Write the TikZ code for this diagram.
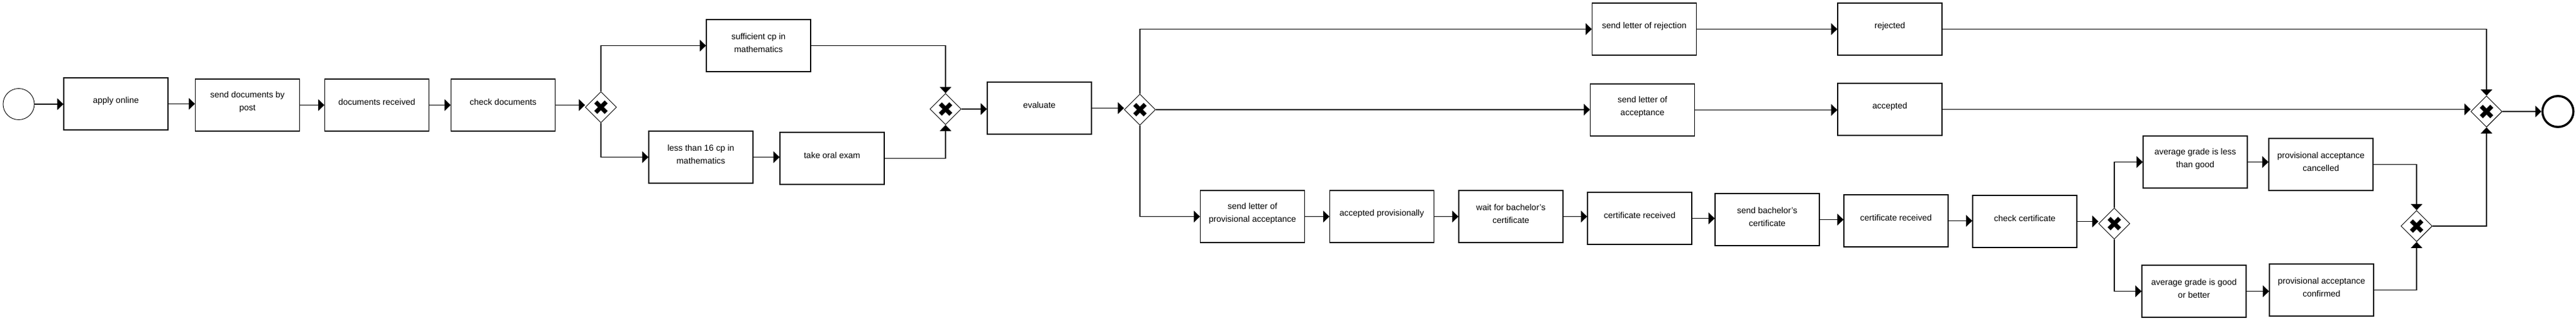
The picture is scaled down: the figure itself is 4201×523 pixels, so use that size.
\documentclass[tikz,border=0pt]{standalone}
\usepackage{fontspec}
\setmainfont{Liberation Sans}
\usetikzlibrary{arrows.meta,shapes.geometric,calc}
\tikzset{
  task/.style={draw, line width=1.3pt, minimum width=170pt, minimum height=85pt, inner sep=0pt},
  tasktext/.style={align=center, font=\fontsize{14}{21}\selectfont, inner sep=0pt},
  gate/.style={diamond, draw, line width=0.9pt, minimum width=51pt, minimum height=51pt, inner sep=0pt,
    path picture={
      \draw[line width=7pt] ([shift={(-8.5pt,-8.5pt)}]path picture bounding box.center) -- ([shift={(8.5pt,8.5pt)}]path picture bounding box.center);
      \draw[line width=7pt] ([shift={(-8.5pt,8.5pt)}]path picture bounding box.center) -- ([shift={(8.5pt,-8.5pt)}]path picture bounding box.center);
    }},
  startev/.style={circle, draw, line width=0.9pt, minimum size=51pt, inner sep=0pt},
  endev/.style={circle, draw, line width=3.5pt, minimum size=50.5pt, inner sep=0pt},
  flow/.style={line width=1.1pt, -{Triangle[length=10pt,width=19pt]}},
}
\newcommand{\mktask}[4]{\node[task] (#1) at (#2,#3) {}; \node[tasktext] (#1t) at ([yshift=5pt]#1.center) {#4};}
\begin{document}
\begin{tikzpicture}[x=1pt,y=-1pt]
\useasboundingbox (0,0) rectangle (4201,523);
% events
\node[startev] (start) at (30.5,170) {};
\node[endev] (end) at (4171.5,182) {};
% tasks
\mktask{a1}{189}{169.5}{apply online}
\mktask{a2}{403.5}{171.5}{send documents by\\post}
\mktask{a3}{614.5}{171.5}{documents received}
\mktask{a4}{820.5}{171.5}{check documents}
\mktask{a5}{1237}{74.5}{sufficient cp in\\mathematics}
\mktask{a6}{1143}{256.5}{less than 16 cp in\\mathematics}
\mktask{a7}{1357}{258.5}{take oral exam}
\mktask{a8}{1695}{176.5}{evaluate}
\mktask{a9}{2681.5}{47.5}{send letter of rejection}
\mktask{a10}{2678.5}{179.5}{send letter of\\acceptance}
\mktask{a11}{3082}{47.5}{rejected}
\mktask{a12}{3082}{178.5}{accepted}
\mktask{a13}{2042.5}{353.5}{send letter of\\provisional acceptance}
\mktask{a14}{2253.5}{353.5}{accepted provisionally}
\mktask{a15}{2464}{353.5}{wait for bachelor's\\certificate}
\mktask{a16}{2674}{356.5}{certificate received}
\mktask{a17}{2882}{358.5}{send bachelor's\\certificate}
\mktask{a18}{3092}{360.5}{certificate received}
\mktask{a19}{3302}{361.5}{check certificate}
\mktask{a20}{3580}{264.5}{average grade is less\\than good}
\mktask{a21}{3785}{268.5}{provisional acceptance\\cancelled}
\mktask{a22}{3578}{475.5}{average grade is good\\or better}
\mktask{a23}{3786}{473.5}{provisional acceptance\\confirmed}
% gateways
\node[gate] (g1) at (980,175) {};
\node[gate] (g2) at (1542,178) {};
\node[gate] (g3) at (1859,179) {};
\node[gate] (g4) at (3448,365) {};
\node[gate] (g5) at (3941,369) {};
\node[gate] (g6) at (4055,182) {};
% flows
\draw[flow] (start) -- (start -| a1.west);
\draw[flow] (a1) -- (a1 -| a2.west);
\draw[flow] (a2) -- (a2 -| a3.west);
\draw[flow] (a3) -- (a3 -| a4.west);
\draw[flow] (a4) -- (a4 -| g1.west);
\draw[flow] (g1.north) |- (a5.west);
\draw[flow] (g1.south) |- (a6.west);
\draw[flow] (a6) -- (a6 -| a7.west);
\draw[flow] (a5.east) -| (g2.north);
\draw[flow] (a7.east) -| (g2.south);
\draw[flow] (g2.east) -- (g2.east -| a8.west);
\draw[flow] (a8) -- (a8 -| g3.west);
\draw[flow] (g3.north) |- (a9.west);
\draw[flow] (g3.east) -- (g3.east -| a10.west);
\draw[flow] (g3.south) |- (a13.west);
\draw[flow] (a13) -- (a13 -| a14.west);
\draw[flow] (a14) -- (a14 -| a15.west);
\draw[flow] (a15) -- (a15 -| a16.west);
\draw[flow] (a16) -- (a16 -| a17.west);
\draw[flow] (a17) -- (a17 -| a18.west);
\draw[flow] (a18) -- (a18 -| a19.west);
\draw[flow] (a19) -- (a19 -| g4.west);
\draw[flow] (g4.north) |- (a20.west);
\draw[flow] (g4.south) |- (a22.west);
\draw[flow] (a20) -- (a20 -| a21.west);
\draw[flow] (a22) -- (a22 -| a23.west);
\draw[flow] (a21.east) -| (g5.north);
\draw[flow] (a23.east) -| (g5.south);
\draw[flow] (g5.east) -| (g6.south);
\draw[flow] (a9) -- (a9 -| a11.west);
\draw[flow] (a10) -- (a10 -| a12.west);
\draw[flow] (a11.east) -| (g6.north);
\draw[flow] (a12) -- (a12 -| g6.west);
\draw[flow] (g6) -- (g6 -| end.west);
\end{tikzpicture}
\end{document}
